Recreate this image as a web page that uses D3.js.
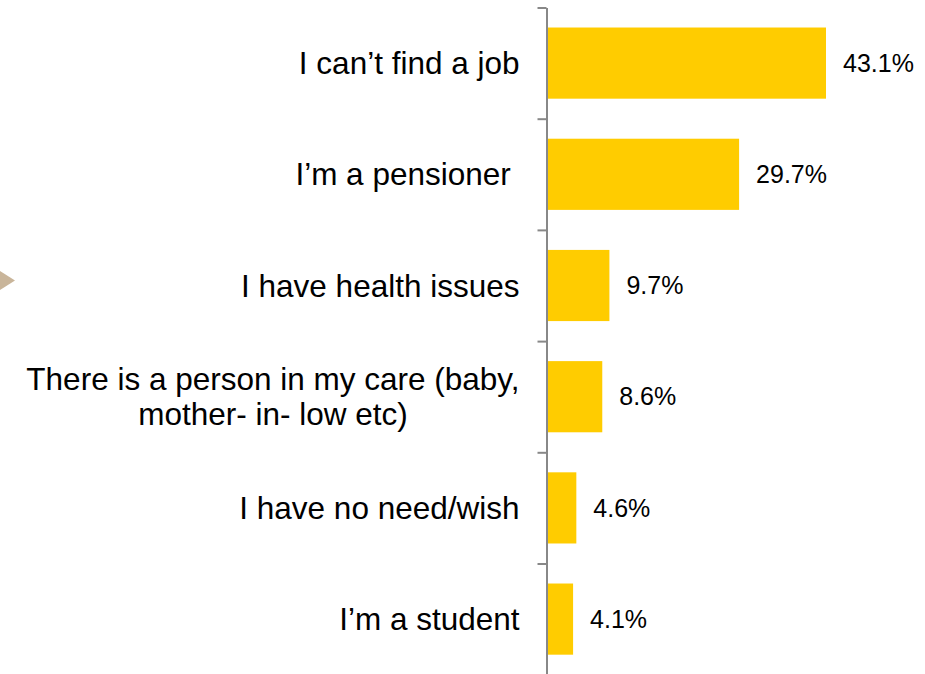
<!DOCTYPE html>
<html>
<head>
<meta charset="utf-8">
<script src="https://cdn.jsdelivr.net/npm/d3@7"></script>
<style>
  body { margin: 0; background: #fff; }
  text { font-family: "Liberation Sans", Arial, sans-serif; fill: #000; }
</style>
</head>
<body>
<div id="chart"></div>
<script>
const W = 925, H = 674;

// data
const categories = [
  ["I can\u2019t find a job"],
  ["I\u2019m a pensioner "],
  ["I have health issues"],
  ["There is a person in my care (baby,", "mother- in- low etc)"],
  ["I have no need/wish"],
  ["I\u2019m a student"]
];
const values = [43.1, 29.7, 9.7, 8.6, 4.6, 4.1];
const idx = d3.range(values.length);

const axisX = 546.5, yTop = 7.5, yBottom = 674.7;

const svg = d3.select("#chart").append("svg")
  .attr("width", W).attr("height", H);

// scales
const x = d3.scaleLinear().domain([0, 43.1]).range([axisX, 826]);
const y = d3.scaleBand().domain(idx).range([yTop, yBottom])
  .paddingInner(0.36).paddingOuter(0.18);
const yTick = d3.scaleLinear().domain([0, values.length]).range([yTop, yBottom]);

// bars
svg.selectAll("rect.bar")
  .data(idx)
  .enter().append("rect")
    .attr("class", "bar")
    .attr("x", x(0))
    .attr("y", i => y(i))
    .attr("width", i => x(values[i]) - x(0))
    .attr("height", y.bandwidth())
    .attr("fill", "#FFCC00");

// axis with ticks between categories
const ax = svg.append("g")
  .attr("transform", `translate(${axisX},0)`)
  .call(d3.axisLeft(yTick).tickValues(d3.range(values.length + 1))
    .tickSize(9).tickSizeOuter(0).tickFormat(""));
ax.select(".domain").attr("stroke", "#888").attr("stroke-width", 2);
ax.selectAll(".tick line").attr("stroke", "#888").attr("stroke-width", 2);

// value labels
svg.selectAll("text.val")
  .data(idx)
  .enter().append("text")
    .attr("class", "val")
    .attr("x", i => x(values[i]) + 17)
    .attr("y", i => y(i) + y.bandwidth() / 2)
    .attr("dy", "0.35em")
    .style("font-size", "25px")
    .text(i => values[i].toFixed(1) + "%");

// category labels
const lineH = 35;
idx.forEach(i => {
  const lines = categories[i];
  const cy = y(i) + y.bandwidth() / 2;
  const t = svg.append("text")
    .attr("text-anchor", lines.length > 1 ? "middle" : "end")
    .style("font-size", "31.5px")
    .style("white-space", "pre");
  lines.forEach((ln, k) => {
    t.append("tspan")
      .attr("x", axisX - 27)
      .attr("y", cy + (k - (lines.length - 1) / 2) * lineH)
      .attr("dy", "0.35em")
      .text(ln);
  });
  if (lines.length > 1) {
    // centred multi-line label, right edge at the label column
    const w = t.node().getBBox().width;
    t.selectAll("tspan").attr("x", axisX - 27 - w / 2);
  }
});

// decorative arrow at left edge
svg.append("path")
  .attr("d", "M0,271 L15,280.5 L0,290 Z")
  .attr("fill", "#C9B59A");
</script>
</body>
</html>
